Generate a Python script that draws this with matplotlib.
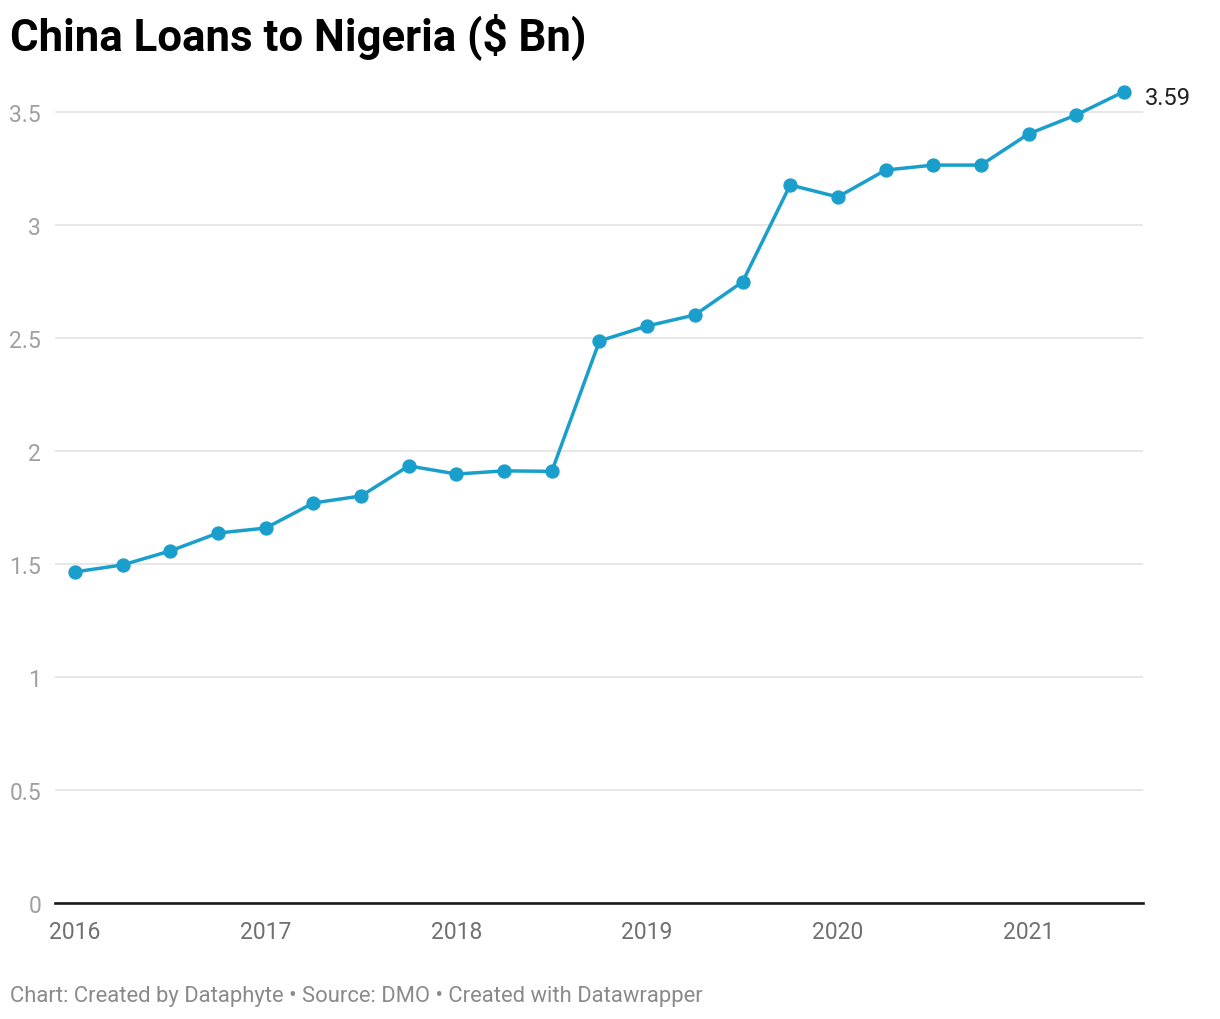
import pandas as pd
import numpy as np
import matplotlib
matplotlib.use("Agg")
import matplotlib.pyplot as plt

plt.rcParams['font.family'] = ['Roboto', 'DejaVu Sans']

# quarterly values, Q1 2016 .. Q3 2021
quarters = pd.date_range('2016-01-01', '2021-07-01', freq='QS')
loans = [1.465, 1.496, 1.558, 1.637, 1.659, 1.770, 1.801, 1.934, 1.898, 1.912,
         1.910, 2.487, 2.553, 2.602, 2.748, 3.177, 3.124, 3.243, 3.265, 3.265,
         3.403, 3.487, 3.59]
year_ticks = [2016, 2017, 2018, 2019, 2020, 2021]
y_ticks = [0, 0.5, 1, 1.5, 2, 2.5, 3, 3.5]
y_labels = ['0', '0.5', '1', '1.5', '2', '2.5', '3', '3.5']

x = quarters.year + (quarters.month - 1) / 12.0

blue = '#1a9fcd'
W, H = 1220, 1020
fig = plt.figure(figsize=(W / 100, H / 100), dpi=100)
ax = fig.add_axes([55 / W, 116 / H, 1088 / W, 836 / H])

ax.plot(x, loans, color=blue, lw=2.5, marker='o', markersize=9.3, zorder=3, clip_on=False)
ax.annotate('3.59', (x[-1], loans[-1]), xytext=(15, -4), textcoords='offset points',
            fontsize=17, color='#222222', va='center', ha='left')

ax.set_xlim(2015.895, 2021.6)
ax.set_ylim(0, 3.699)
ax.set_yticks(y_ticks)
ax.set_yticklabels(y_labels)
ax.set_xticks(year_ticks)
ax.set_xticklabels([str(y) for y in year_ticks])
ax.grid(axis='y', color='#e3e3e3', lw=1.2)
ax.set_axisbelow(True)
for s in ax.spines.values():
    s.set_visible(False)
# zero baseline
ax.axhline(0, color='#1a1a1a', lw=1.9, zorder=2.5, clip_on=False)
ax.tick_params(axis='y', length=0, pad=10, labelsize=16.5, labelcolor='#a0a0a0')
ax.tick_params(axis='x', length=0, pad=12, labelsize=16.5, labelcolor='#707070')
for lbl in ax.get_yticklabels():
    lbl.set_ha('right')

fig.text(10 / W, 1 - 37 / H, 'China Loans to Nigeria ($ Bn)', fontsize=31.5, fontweight='bold',
         va='center', ha='left', color='#000000')
fig.text(10 / W, 1 - 997 / H, 'Chart: Created by Dataphyte \u2022 Source: DMO \u2022 Created with Datawrapper',
         fontsize=15.8, color='#8a8a8a', va='center', ha='left')

fig.savefig('out.png', dpi=100, facecolor='white')
